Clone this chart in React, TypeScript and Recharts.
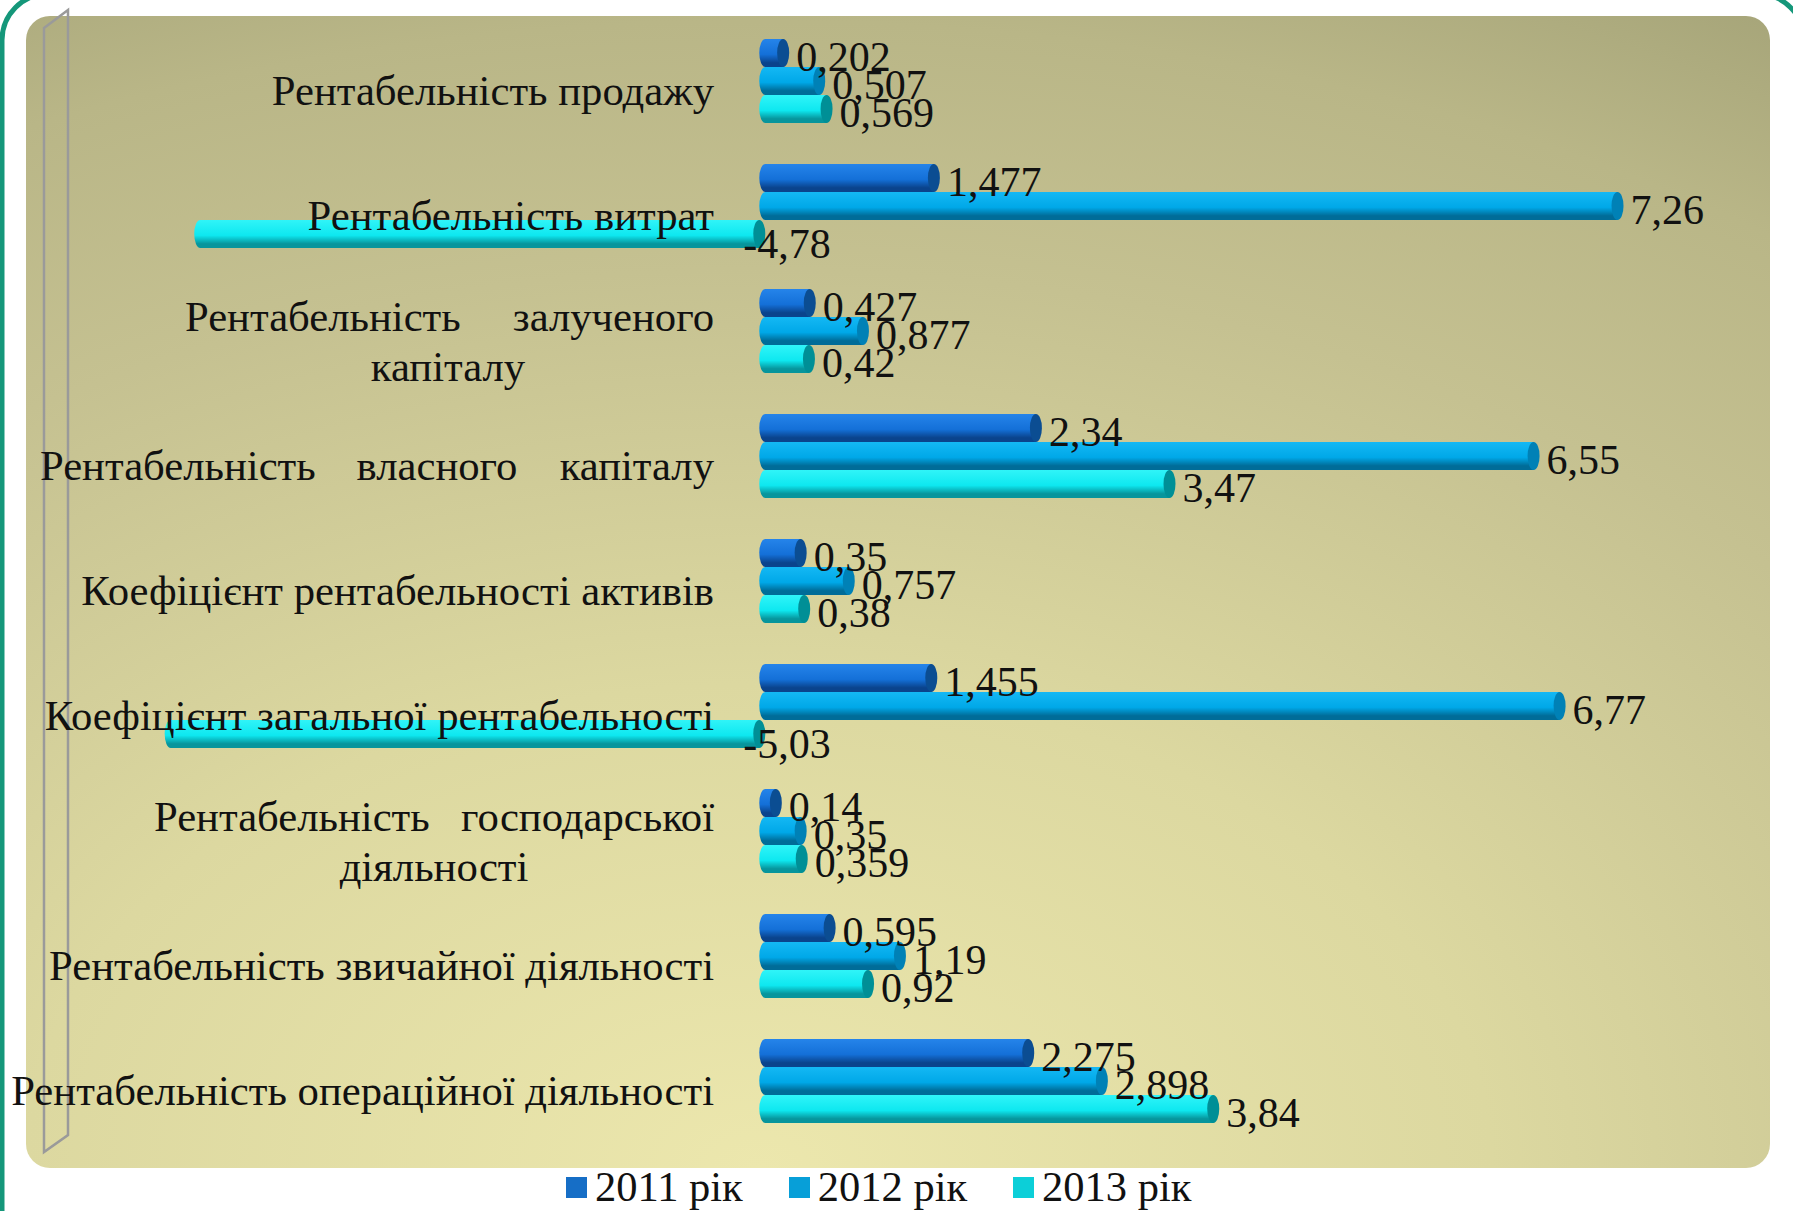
import React from 'react';
import { BarChart, Bar, XAxis, YAxis, Legend, LabelList } from 'recharts';

const categories = [
  'Рентабельність продажу',
  'Рентабельність витрат',
  'Рентабельність залученого капіталу',
  'Рентабельність власного капіталу',
  'Коефіцієнт рентабельності активів',
  'Коефіцієнт загальної рентабельності',
  'Рентабельність господарської діяльності',
  'Рентабельність звичайної діяльності',
  'Рентабельність операційної діяльності',
];

const values2011 = [0.202, 1.477, 0.427, 2.34, 0.35, 1.455, 0.14, 0.595, 2.275];
const values2012 = [0.507, 7.26, 0.877, 6.55, 0.757, 6.77, 0.35, 1.19, 2.898];
const values2013 = [0.569, -4.78, 0.42, 3.47, 0.38, -5.03, 0.359, 0.92, 3.84];

const seriesNames = ['2011 рік', '2012 рік', '2013 рік'];

const data = categories.map((name, i) => ({
  name,
  y2011: values2011[i],
  y2012: values2012[i],
  y2013: values2013[i],
}));

const FONT = '"Liberation Serif", "Times New Roman", serif';

// colours of the cylinders: top highlight, body, bottom shade, end cap, legend swatch
const colors: Record<string, { light: string; base: string; dark: string; cap: string; legend: string }> = {
  y2011: { light: '#2584ea', base: '#1470d8', dark: '#0a438c', cap: '#0b4d92', legend: '#166ec6' },
  y2012: { light: '#14b8f4', base: '#00a8e8', dark: '#006c98', cap: '#0081b6', legend: '#079fd8' },
  y2013: { light: '#30f4f8', base: '#0ee8f0', dark: '#07959c', cap: '#008f96', legend: '#0ccfd8' },
};

// how each category label is laid out (justified text as in the original slide)
type Piece = { t: string; x: number; a: 'start' | 'middle' | 'end' };
const labelLayout: Record<string, Piece[][]> = {
  'Рентабельність залученого капіталу': [
    [{ t: 'Рентабельність', x: 185, a: 'start' }, { t: 'залученого', x: 714, a: 'end' }],
    [{ t: 'капіталу', x: 448, a: 'middle' }],
  ],
  'Рентабельність власного капіталу': [
    [{ t: 'Рентабельність', x: 40, a: 'start' }, { t: 'власного', x: 437, a: 'middle' }, { t: 'капіталу', x: 714, a: 'end' }],
  ],
  'Рентабельність господарської діяльності': [
    [{ t: 'Рентабельність', x: 154, a: 'start' }, { t: 'господарської', x: 714, a: 'end' }],
    [{ t: 'діяльності', x: 434, a: 'middle' }],
  ],
};

function CategoryTick(props: any) {
  const { y, payload } = props;
  const name = payload.value as string;
  const lines = labelLayout[name] || [[{ t: name, x: 714, a: 'end' }]];
  const baseDy = lines.length > 1 ? 0 : 24;
  return (
    <g>
      {lines.map((line, li) =>
        line.map((p, pi) => (
          <text
            key={`${li}-${pi}`}
            x={p.x}
            y={y + baseDy + li * 50}
            textAnchor={p.a}
            fontFamily={FONT}
            fontSize={42.7}
            fill="#111"
          >
            {p.t}
          </text>
        ))
      )}
    </g>
  );
}

function CylinderBar(props: any) {
  const { x, y, width, height, gid, cap } = props;
  const w = Math.abs(width);
  if (!w || !height) return null;
  const x0 = Math.min(x, x + width);
  const x1 = x0 + w;
  const h = height;
  const ry = h / 2;
  const rx = 6;
  const d = `M ${x0 + rx} ${y} L ${x1} ${y} L ${x1} ${y + h} L ${x0 + rx} ${y + h} A ${rx} ${ry} 0 0 1 ${x0 + rx} ${y} Z`;
  return (
    <g>
      <path d={d} fill={`url(#${gid})`} />
      <ellipse cx={x1} cy={y + ry} rx={rx} ry={ry} fill={cap} />
    </g>
  );
}

const fmt = (v: number) => String(v).replace('.', ',');

const renderValue = (props: any) => {
  const vb = props.viewBox || props;
  const x = vb.x ?? props.x;
  const y = vb.y ?? props.y;
  const width = vb.width ?? props.width;
  const height = vb.height ?? props.height;
  const value = Number(props.value);
  const right = Math.max(x, x + width);
  const neg = value < 0;
  return (
    <text
      x={right + (neg ? -16 : 13)}
      y={y + height / 2 + (neg ? 24 : 18)}
      fontFamily={FONT}
      fontSize={42}
      fill="#111"
    >
      {fmt(value)}
    </text>
  );
};

const renderLegend = (props: any) => {
  const { payload } = props;
  return (
    <div style={{ display: 'flex', fontFamily: FONT, fontSize: 42.5, color: '#111', lineHeight: '50px' }}>
      {(payload || []).map((item: any) => (
        <div key={item.value} style={{ display: 'flex', alignItems: 'center', marginRight: 46 }}>
          <span
            style={{
              display: 'inline-block',
              width: 21,
              height: 21,
              background: colors[item.dataKey]?.legend,
              marginRight: 8,
            }}
          />
          <span>{item.value}</span>
        </div>
      ))}
    </div>
  );
};

const keys = ['y2011', 'y2012', 'y2013'];

export default function App() {
  return (
    <div style={{ position: 'absolute', left: 0, top: 0, width: 1793, height: 1211, background: '#fff', overflow: 'hidden' }}>
      <svg style={{ position: 'absolute', left: 0, top: 0 }} width={1793} height={1211}>
        <defs>
          <radialGradient id="panelBg" cx="0.42" cy="1" r="1.2">
            <stop offset="0" stopColor="#ece7ad" />
            <stop offset="0.35" stopColor="#dcd8a0" />
            <stop offset="0.65" stopColor="#c5c191" />
            <stop offset="0.83" stopColor="#b9b687" />
            <stop offset="1" stopColor="#a2a176" />
          </radialGradient>
        </defs>
        <rect x={2} y={-6} width={1802} height={1300} rx={46} fill="none" stroke="#15977a" strokeWidth={5} />
        <rect x={26} y={16} width={1744} height={1152} rx={24} fill="url(#panelBg)" />
        <polygon points="44,28 68,10 68,1135 44,1152" fill="none" stroke="#9a9a9a" strokeWidth={2.5} />
      </svg>
      <div style={{ position: 'absolute', left: 0, top: 0 }}>
        <BarChart
          width={1793}
          height={1211}
          data={data}
          layout="vertical"
          margin={{ top: 18, right: 88, bottom: 68, left: 0 }}
          barSize={28}
          barGap={0}
        >
          <defs>
            {keys.map((k) => (
              <linearGradient key={k} id={`g-${k}`} x1="0" y1="0" x2="0" y2="1">
                <stop offset="0" stopColor={colors[k].light} />
                <stop offset="0.55" stopColor={colors[k].base} />
                <stop offset="0.85" stopColor={colors[k].dark} />
                <stop offset="1" stopColor={colors[k].dark} />
              </linearGradient>
            ))}
          </defs>
          <XAxis type="number" hide domain={[-6, 8]} />
          {keys.map((k, i) => (
            <Bar
              key={k}
              dataKey={k}
              name={seriesNames[i]}
              fill={colors[k].legend}
              isAnimationActive={false}
              shape={(p: any) => <CylinderBar {...p} gid={`g-${k}`} cap={colors[k].cap} />}
            >
              <LabelList dataKey={k} content={renderValue} />
            </Bar>
          ))}
          <YAxis
            type="category"
            dataKey="name"
            width={50}
            axisLine={false}
            tickLine={false}
            tick={<CategoryTick />}
            interval={0}
          />
          <Legend
            layout="horizontal"
            verticalAlign="middle"
            align="center"
            content={renderLegend}
            wrapperStyle={{ left: 566, top: 1162, width: 780, height: 50 }}
          />
        </BarChart>
      </div>
    </div>
  );
}
